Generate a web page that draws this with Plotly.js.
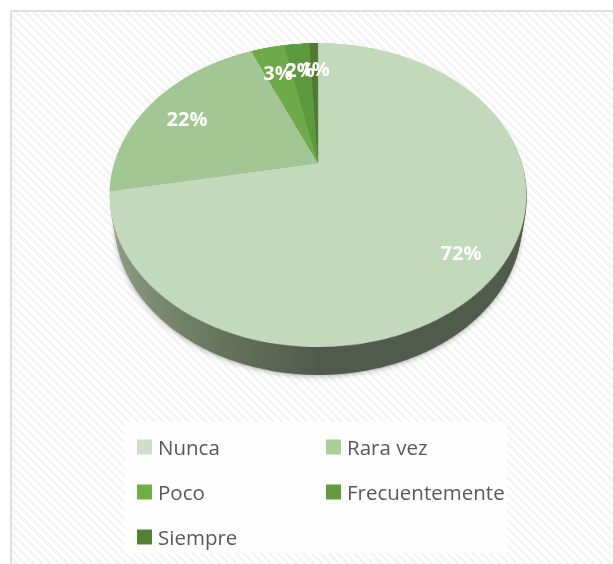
<!DOCTYPE html>
<html>
<head>
<meta charset="utf-8">
<script src="https://cdn.plot.ly/plotly-3.0.1.min.js"></script>
<style>
html,body{margin:0;padding:0;width:613px;height:564px;overflow:hidden;background:#fff;}
#frame{position:absolute;left:10px;top:10px;width:620px;height:570px;border:2px solid #e0e0e0;box-sizing:border-box;
  background:repeating-linear-gradient(45deg,#f5f5f5 0,#f5f5f5 3px,#fff 3px,#fff 6px);}
#legendbox{position:absolute;left:125px;top:422px;width:382px;height:131px;background:rgba(255,255,255,.75);}
#rim{position:absolute;left:0;top:0;width:613px;height:564px;}
.layer{position:absolute;left:0;top:0;width:613px;height:564px;transform-origin:0 0;}
.disc{position:absolute;border-radius:50%;}
#chart{position:absolute;left:0;top:0;width:613px;height:564px;}
</style>
</head>
<body>
<div id="frame"></div>
<div id="legendbox"></div>
<div id="rim"></div>
<div id="chart"></div>
<script>
const categories = ['Nunca','Rara vez','Poco','Frecuentemente','Siempre'];
const shares = [72, 21.6, 3.2, 2.4, 0.8];
const sliceColors = ['#c3d9bb','#a2c795','#6cab47','#5d9a3e','#4f7a30'];
const legendColors = ['#cddfc8','#a9cf98','#70ad47','#639c3e','#548235'];
const labelAnchors = [[461,252],[187,118],[278,72],[300,69],[315,68]];
const legendSlots = [[144.5,447],[333.5,447],[144.5,492],[333.5,492],[144.5,537]];
const W = 613, H = 564;

const total = shares.reduce((a,b)=>a+b,0);
const annotations = shares.map((v,i)=>({
  text: Math.round(v/total*100)+'%',
  x: labelAnchors[i][0]/W, y: 1-labelAnchors[i][1]/H,
  xref:'paper', yref:'paper', showarrow:false,
  font:{family:'"Open Sans", sans-serif',size:20,color:'#fff',weight:700}
}));

const gd = document.getElementById('chart');
Plotly.newPlot(gd,[{
  type:'pie', labels:categories, values:shares, sort:false, direction:'clockwise', rotation:0,
  textinfo:'none', hoverinfo:'label+percent',
  marker:{colors:sliceColors,line:{width:0}},
  domain:{x:[0,1],y:[0,1]}
}],{
  width:W,height:H,margin:{l:0,r:0,t:0,b:0,pad:0},
  paper_bgcolor:'rgba(0,0,0,0)',plot_bgcolor:'rgba(0,0,0,0)',
  showlegend:true,
  legend:{orientation:'v',x:0.5,y:0.5,bgcolor:'rgba(0,0,0,0)',font:{family:'"Open Sans", sans-serif',size:20.5,color:'#595959'}},
  annotations
},{displayModeBar:false}).then(()=>{
  const cd = gd.calcdata[0][0];
  const cx0=cd.cx, cy0=cd.cy, R0=cd.r;
  // projective tilt of the pie disc
  const cxT=318, cyT=163, k=-0.2105, a=203.8, b=145.3;
  const w0=1-k*cy0/R0;
  const tx=cxT*w0-a*cx0/R0, ty=cyT*w0-b*cy0/R0;
  const m=[a/R0,0,0,0, cxT*k/R0,(cyT*k+b)/R0,0,k/R0, 0,0,1,0, tx,ty,0,w0];
  const M='matrix3d('+m.join(',')+')';
  const svgs=gd.querySelectorAll('svg.main-svg');
  const svg=svgs[0], topSvg=svgs[svgs.length-1];
  // labels stay flat: lift them out of the tilted layer and centre them on their anchors
  gd.querySelectorAll('.annotation').forEach((n,i)=>{
    topSvg.appendChild(n);
    const r=n.querySelector('text').getBoundingClientRect();
    const dx=labelAnchors[i][0]-(r.left+r.width/2), dy=labelAnchors[i][1]-(r.top+r.height/2);
    n.setAttribute('transform','translate('+dx+','+dy+')');
  });
  svg.style.transformOrigin='0 0';
  svg.style.transform=M;
  svg.style.overflow='visible';

  const rim=document.getElementById('rim');
  const grad='linear-gradient(to right,#a3b09a 0%,#8a9a80 6%,#77866d 18%,#5f6c56 36%,#505a4c 50%,#505b4b 100%)';
  const depth=28, shrink=0.025;
  const addDisc=(dy,s,bg,filter)=>{
    const l=document.createElement('div');l.className='layer';
    l.style.transform='translate('+cxT+'px,'+dy+'px) scaleX('+s+') translate('+(-cxT)+'px,0) '+M;
    const d=document.createElement('div');d.className='disc';
    d.style.left=(cx0-R0)+'px';d.style.top=(cy0-R0)+'px';d.style.width=d.style.height=(2*R0)+'px';
    d.style.background=bg;
    if(filter){l.style.filter=filter;}
    l.appendChild(d);rim.appendChild(l);
  };
  addDisc(depth+1,1-shrink,'rgba(0,0,0,.3)','blur(3px)');
  for(let dy=depth;dy>=1;dy--) addDisc(dy,1-shrink*dy/depth,grad);

  // legend slots
  const leg=gd.querySelector('.legend');
  leg.setAttribute('transform','translate(0,0)');
  const sb=leg.querySelector('.scrollbox');
  sb.removeAttribute('clip-path');sb.setAttribute('transform','translate(0,0)');
  const bg=leg.querySelector('rect.bg');if(bg)bg.style.display='none';
  leg.querySelectorAll('.traces').forEach((t,i)=>{
    const s=legendSlots[i];
    t.setAttribute('transform','translate('+(s[0]-20)+','+s[1]+')');
    const p=t.querySelector('.legendpoints path');
    if(p){p.setAttribute('d','M7.5,7.5H-7.5V-7.5H7.5Z');p.style.fill=legendColors[i];p.style.stroke='none';}
    const tx_=t.querySelector('text.legendtext');
    if(tx_){tx_.setAttribute('x',33.5);}
  });
});
</script>
</body>
</html>
